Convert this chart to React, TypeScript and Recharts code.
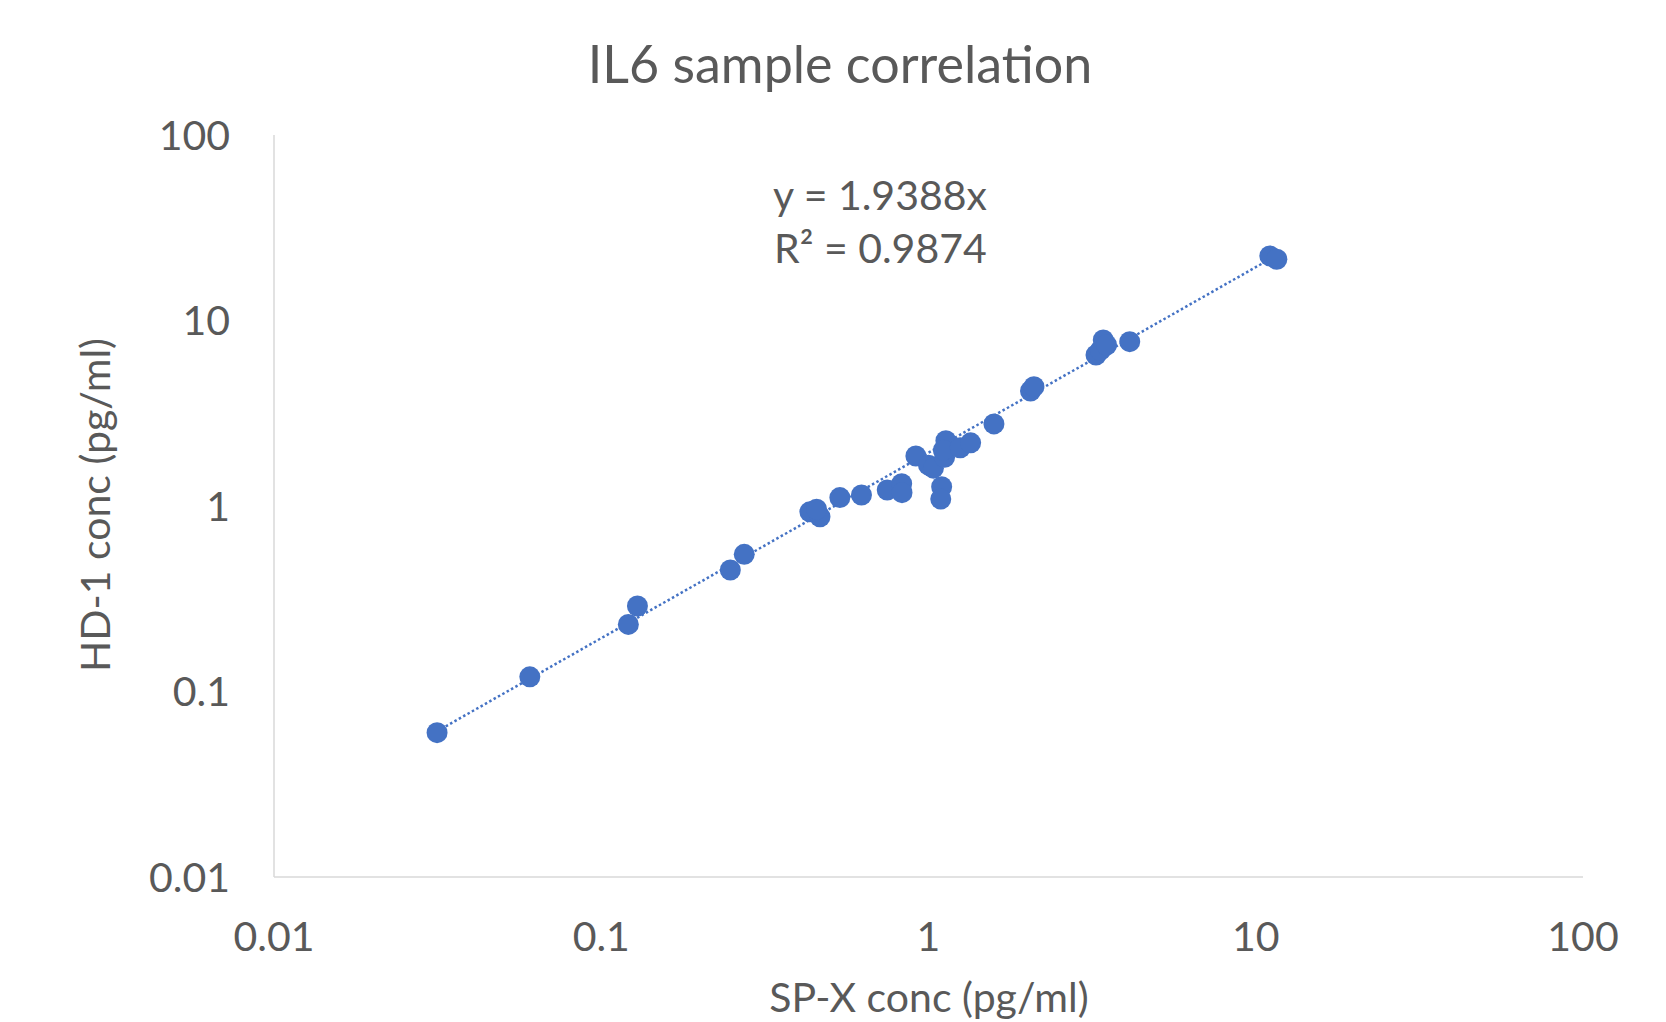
import { ReferenceLine, Scatter, ScatterChart, XAxis, YAxis } from 'recharts'

const spxConc = [
  0.0315, 0.0605, 0.121, 0.129, 0.248, 0.2735, 0.434, 0.466, 0.455, 0.536, 0.624, 0.748, 0.828, 0.83,
  0.915, 1.0, 1.035, 1.097, 1.09, 1.13, 1.12, 1.11, 1.25, 1.345, 1.585, 2.05, 2.1, 3.25, 3.35, 3.42,
  3.5, 4.12, 11.04, 11.6,
]
const hd1Conc = [
  0.06, 0.12, 0.23, 0.289, 0.452, 0.549, 0.93, 0.875, 0.96, 1.11, 1.146, 1.22, 1.32, 1.18, 1.86, 1.66,
  1.6, 1.27, 1.09, 2.25, 1.83, 2.0, 2.06, 2.19, 2.77, 4.17, 4.4, 6.52, 6.9, 7.85, 7.38, 7.69, 22.3,
  21.4,
]
const logTicks = [0.01, 0.1, 1, 10, 100]
const slope = 1.9388
const rSquared = '0.9874'

const BLUE = '#4472C4'
const TEXT = '#595959'
const FONT = 'Lato, "Open Sans", sans-serif'

const points = spxConc.map((x, i) => ({ x, y: hd1Conc[i] }))
const xMin = Math.min(...spxConc)
const xMax = Math.max(...spxConc)

const Dot = (props: any) => <circle cx={props.cx} cy={props.cy} r={10.5} fill={BLUE} />

export default function App() {
  return (
    <div style={{ position: 'absolute', left: 0, top: 0, width: 1666, height: 1022, background: '#fff' }}>
      <ScatterChart width={1666} height={1022} margin={{ top: 135, right: 83, bottom: 85, left: 194 }}>
        <XAxis
          type="number"
          dataKey="x"
          scale="log"
          domain={[0.01, 100]}
          ticks={logTicks}
          allowDataOverflow
          height={60}
          tickLine={false}
          tickSize={0}
          tickMargin={45}
          axisLine={{ stroke: '#d9d9d9', strokeWidth: 1.5 }}
          tick={{ fill: TEXT, fontSize: 41, fontFamily: FONT }}
          tickFormatter={(v) => String(v)}
        />
        <YAxis
          type="number"
          dataKey="y"
          scale="log"
          domain={[0.01, 100]}
          ticks={logTicks}
          allowDataOverflow
          width={80}
          tickLine={false}
          tickSize={0}
          tickMargin={44}
          axisLine={{ stroke: '#d9d9d9', strokeWidth: 1.5 }}
          tick={{ fill: TEXT, fontSize: 41, fontFamily: FONT }}
          tickFormatter={(v) => String(v)}
        />
        <ReferenceLine
          segment={[
            { x: xMin, y: slope * xMin },
            { x: xMax, y: slope * xMax },
          ]}
          stroke={BLUE}
          strokeWidth={2.5}
          strokeDasharray="2.5 2.5"
        />
        <Scatter data={points} shape={Dot} isAnimationActive={false} />
      </ScatterChart>
      <svg
        width={1666}
        height={1022}
        style={{ position: 'absolute', left: 0, top: 0, pointerEvents: 'none' }}
        fontFamily={FONT}
        fill={TEXT}
      >
        <text x={840} y={83} textAnchor="middle" fontSize={52}>
          IL6 sample correlation
        </text>
        <text x={929} y={1012} textAnchor="middle" fontSize={41}>
          SP-X conc (pg/ml)
        </text>
        <text x={110} y={505} textAnchor="middle" fontSize={41} transform="rotate(-90 110 505)">
          HD-1 conc (pg/ml)
        </text>
        <text x={773} y={210} fontSize={41}>
          y = {slope}x
        </text>
        <text x={774} y={263} fontSize={41}>
          R² = {rSquared}
        </text>
      </svg>
    </div>
  )
}
